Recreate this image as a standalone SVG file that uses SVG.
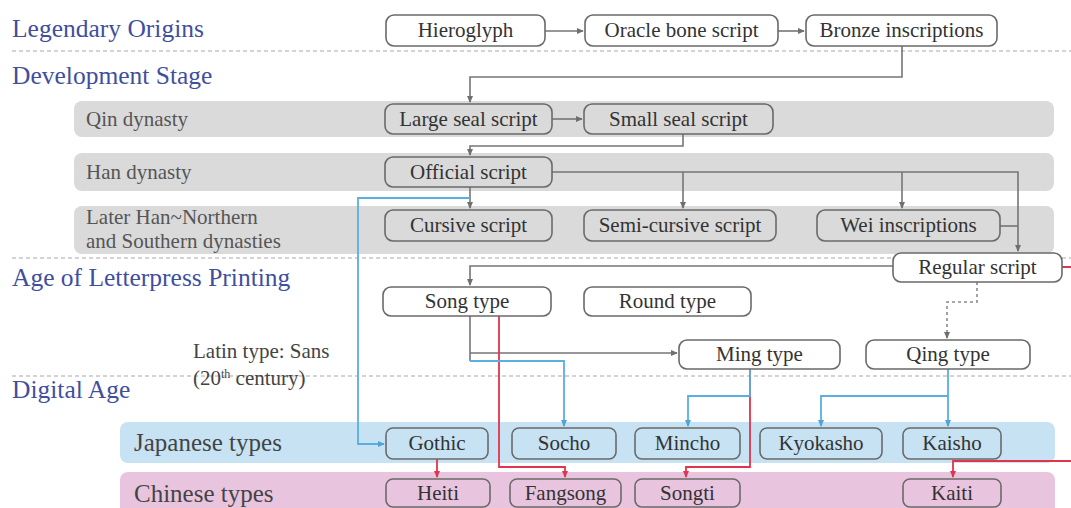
<svg xmlns="http://www.w3.org/2000/svg" width="1071" height="508" viewBox="0 0 1071 508">
  <defs>
    <marker id="ah-gray" viewBox="0 0 8 8" refX="7" refY="4" markerWidth="7" markerHeight="7" markerUnits="userSpaceOnUse" orient="auto">
      <path d="M0,0.5 L8,4 L0,7.5 Z" fill="#6f6f6f"/>
    </marker>
    <marker id="ah-blue" viewBox="0 0 8 8" refX="7" refY="4" markerWidth="7" markerHeight="7" markerUnits="userSpaceOnUse" orient="auto">
      <path d="M0,0.5 L8,4 L0,7.5 Z" fill="#4ea3da"/>
    </marker>
    <marker id="ah-red" viewBox="0 0 8 8" refX="7" refY="4" markerWidth="7" markerHeight="7" markerUnits="userSpaceOnUse" orient="auto">
      <path d="M0,0.5 L8,4 L0,7.5 Z" fill="#e2344c"/>
    </marker>
    <style>
      text { font-family: 'Liberation Serif', 'Times New Roman', serif; }
      .stage { font-size: 25.5px; fill: #3f4f9e; }
      .band-label { font-size: 21px; fill: #555; }
      .type-label { font-size: 25px; fill: #444; }
      .note { font-size: 21px; fill: #444; }
      .sep { stroke: #a8a8a8; stroke-width: 1.2; stroke-dasharray: 4 3; }
      .band-gray { fill: #dadada; }
      .band-blue { fill: #c6e2f3; }
      .band-pink { fill: #e9c4de; }
      .node rect { stroke: #6a6a6a; stroke-width: 1.6; }
      .node.white rect { fill: #ffffff; }
      .node.gray rect { fill: #dadada; }
      .node.blue rect { fill: #c6e2f3; }
      .node.pink rect { fill: #e9c4de; }
      .node text { font-size: 21px; fill: #333; text-anchor: middle; }
      .c-gray { fill: none; stroke: #757575; stroke-width: 1.6; }
      .c-dash { fill: none; stroke: #8a8a8a; stroke-width: 1.6; stroke-dasharray: 3 3; }
      .c-blue { fill: none; stroke: #5aaee0; stroke-width: 1.8; }
      .c-red { fill: none; stroke: #e2344c; stroke-width: 1.8; }
    </style>
  </defs>

  <rect width="1071" height="508" fill="#ffffff"/>

  <!-- stage headings and separators -->
  <g id="stages">
    <text class="stage" x="12" y="37">Legendary Origins</text>
    <line class="sep" x1="12" y1="51" x2="1071" y2="51"/>
    <text class="stage" x="12" y="84">Development Stage</text>
    <line class="sep" x1="12" y1="258" x2="1071" y2="258"/>
    <text class="stage" x="12" y="286">Age of Letterpress Printing</text>
    <line class="sep" x1="12" y1="376" x2="1071" y2="376"/>
    <text class="stage" x="12" y="398">Digital Age</text>
  </g>

  <!-- period bands -->
  <g id="bands">
    <rect class="band-gray" x="74" y="101" width="980" height="36" rx="8"/>
    <text class="band-label" x="86" y="126">Qin dynasty</text>
    <rect class="band-gray" x="74" y="153" width="980" height="38" rx="8"/>
    <text class="band-label" x="86" y="179">Han dynasty</text>
    <rect class="band-gray" x="74" y="206" width="980" height="48" rx="8"/>
    <text class="band-label" x="86" y="224">Later Han~Northern</text>
    <text class="band-label" x="86" y="248">and Southern dynasties</text>
    <rect class="band-blue" x="120" y="422" width="935" height="41" rx="8"/>
    <text class="type-label" x="134" y="451">Japanese types</text>
    <rect class="band-pink" x="120" y="472" width="935" height="44" rx="8"/>
    <text class="type-label" x="134" y="502">Chinese types</text>
  </g>

  <g id="latin-note">
    <text class="note" x="193" y="358">Latin type: Sans</text>
    <text class="note" x="193" y="385">(20<tspan font-size="12" dy="-7">th</tspan><tspan dy="7"> century)</tspan></text>
  </g>

  <!-- connectors -->
  <g id="connectors">
    <path class="c-gray" d="M545,31 H583" marker-end="url(#ah-gray)"/>
    <path class="c-gray" d="M778,31 H804" marker-end="url(#ah-gray)"/>
    <path class="c-gray" d="M902,46 V77 H470 V102" marker-end="url(#ah-gray)"/>
    <path class="c-gray" d="M552,119 H582" marker-end="url(#ah-gray)"/>
    <path class="c-gray" d="M683,134 V146 H470 V155" marker-end="url(#ah-gray)"/>
    <path class="c-gray" d="M470,187 V208" marker-end="url(#ah-gray)"/>
    <path class="c-gray" d="M552,172 H1018 V251" marker-end="url(#ah-gray)"/>
    <path class="c-gray" d="M683,172 V208" marker-end="url(#ah-gray)"/>
    <path class="c-gray" d="M902,172 V208" marker-end="url(#ah-gray)"/>
    <path class="c-gray" d="M1000,226 H1018"/>
    <path class="c-gray" d="M893,266 H470 V285" marker-end="url(#ah-gray)"/>
    <path class="c-gray" d="M470,316 V361"/>
    <path class="c-gray" d="M470,353 H677" marker-end="url(#ah-gray)"/>
    <path class="c-dash" d="M977,282 V302 H947 V338" marker-end="url(#ah-gray)"/>

    <path class="c-red" d="M499,316 V467 H565 V477" marker-end="url(#ah-red)"/>
    <path class="c-red" d="M750,369 V467 H686 V477" marker-end="url(#ah-red)"/>
    <path class="c-red" d="M437,459 V477" marker-end="url(#ah-red)"/>
    <path class="c-red" d="M1062,267 H1085 V461 H953 V477" marker-end="url(#ah-red)"/>

    <path class="c-blue" d="M470,198 H358 V444 H384" marker-end="url(#ah-blue)"/>
    <path class="c-blue" d="M470,361 H564 V426" marker-end="url(#ah-blue)"/>
    <path class="c-blue" d="M750,369 V396 H688 V426" marker-end="url(#ah-blue)"/>
    <path class="c-blue" d="M948,369 V426" marker-end="url(#ah-blue)"/>
    <path class="c-blue" d="M948,396 H821 V426" marker-end="url(#ah-blue)"/>
  </g>

  <!-- legendary origins -->
  <g id="hieroglyph" class="node white"><rect x="386" y="15" width="159" height="31" rx="8"/><text x="465.5" y="37">Hieroglyph</text></g>
  <g id="oracle-bone" class="node white"><rect x="585" y="15" width="193" height="31" rx="8"/><text x="681.5" y="37">Oracle bone script</text></g>
  <g id="bronze" class="node white"><rect x="806" y="15" width="191" height="31" rx="8"/><text x="901.5" y="37">Bronze inscriptions</text></g>

  <!-- development stage -->
  <g id="large-seal" class="node gray"><rect x="385" y="104" width="167" height="30" rx="8"/><text x="468.5" y="126">Large seal script</text></g>
  <g id="small-seal" class="node gray"><rect x="584" y="104" width="189" height="30" rx="8"/><text x="678.5" y="126">Small seal script</text></g>
  <g id="official" class="node gray"><rect x="385" y="157" width="167" height="30" rx="8"/><text x="468.5" y="179">Official script</text></g>
  <g id="cursive" class="node gray"><rect x="385" y="210" width="167" height="31" rx="8"/><text x="468.5" y="232">Cursive script</text></g>
  <g id="semi-cursive" class="node gray"><rect x="584" y="210" width="192" height="31" rx="8"/><text x="680" y="232">Semi-cursive script</text></g>
  <g id="wei" class="node gray"><rect x="817" y="210" width="183" height="31" rx="8"/><text x="908.5" y="232">Wei inscriptions</text></g>
  <g id="regular" class="node white"><rect x="893" y="253" width="169" height="29" rx="8"/><text x="977.5" y="274">Regular script</text></g>

  <!-- letterpress printing -->
  <g id="song-type" class="node white"><rect x="383" y="287" width="168" height="29" rx="8"/><text x="467" y="308">Song type</text></g>
  <g id="round-type" class="node white"><rect x="584" y="287" width="167" height="29" rx="8"/><text x="667.5" y="308">Round type</text></g>
  <g id="ming-type" class="node white"><rect x="679" y="340" width="161" height="29" rx="8"/><text x="759.5" y="361">Ming type</text></g>
  <g id="qing-type" class="node white"><rect x="866" y="340" width="164" height="29" rx="8"/><text x="948" y="361">Qing type</text></g>

  <!-- Japanese types -->
  <g id="gothic" class="node blue"><rect x="386" y="428" width="102" height="31" rx="7"/><text x="437" y="450">Gothic</text></g>
  <g id="socho" class="node blue"><rect x="512" y="428" width="104" height="31" rx="7"/><text x="564" y="450">Socho</text></g>
  <g id="mincho" class="node blue"><rect x="635" y="428" width="105" height="31" rx="7"/><text x="687.5" y="450">Mincho</text></g>
  <g id="kyokasho" class="node blue"><rect x="760" y="428" width="122" height="31" rx="7"/><text x="821" y="450">Kyokasho</text></g>
  <g id="kaisho" class="node blue"><rect x="903" y="428" width="98" height="31" rx="7"/><text x="952" y="450">Kaisho</text></g>

  <!-- Chinese types -->
  <g id="heiti" class="node pink"><rect x="386" y="479" width="104" height="28" rx="7"/><text x="438" y="500">Heiti</text></g>
  <g id="fangsong" class="node pink"><rect x="510" y="479" width="111" height="28" rx="7"/><text x="565.5" y="500">Fangsong</text></g>
  <g id="songti" class="node pink"><rect x="635" y="479" width="105" height="28" rx="7"/><text x="687.5" y="500">Songti</text></g>
  <g id="kaiti" class="node pink"><rect x="903" y="479" width="98" height="28" rx="7"/><text x="952" y="500">Kaiti</text></g>
</svg>
